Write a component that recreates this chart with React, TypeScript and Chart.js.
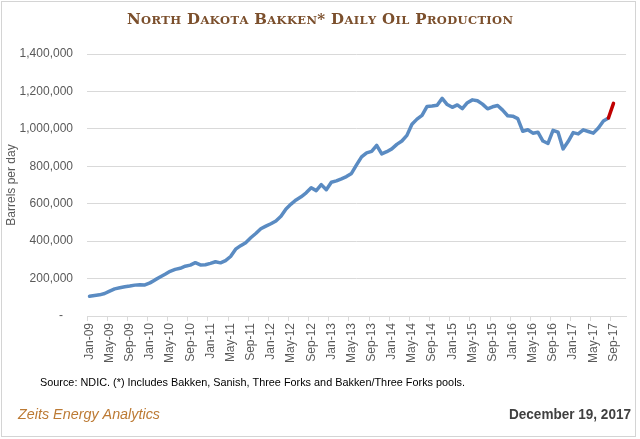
import React, { useEffect, useRef } from "react";
import { Chart, registerables } from "chart.js";

Chart.register(...registerables);

// ---- Data ----
const MONTHS = ["Jan", "Feb", "Mar", "Apr", "May", "Jun", "Jul", "Aug", "Sep", "Oct", "Nov", "Dec"];
const YEARS = ["09", "10", "11", "12", "13", "14", "15", "16", "17"];
// axis categories run Jan-09 .. Nov-17 (data ends Sep-17)
const categories: string[] = YEARS.flatMap((y) => MONTHS.map((m) => `${m}-${y}`)).slice(0, 107);

// North Dakota Bakken daily oil production, barrels per day (Jan-09 .. Sep-17)
const production: number[] = [
  106000, 110000, 113000, 120000, 133000, 145000, 151000, 156000, 160000, 165000, 167000, 166000,
  177000, 193000, 208000, 223000, 239000, 249000, 255000, 266000, 272000, 285000, 273000, 274000,
  281000, 290000, 284000, 296000, 318000, 357000, 376000, 392000, 418000, 441000, 466000, 480000,
  493000, 508000, 533000, 572000, 598000, 620000, 637000, 658000, 685000, 670000, 702000, 675000,
  715000, 722000, 733000, 745000, 762000, 807000, 850000, 872000, 880000, 912000, 866000, 878000,
  893000, 917000, 935000, 965000, 1025000, 1052000, 1072000, 1120000, 1122000, 1126000, 1163000, 1130000,
  1115000, 1128000, 1108000, 1140000, 1155000, 1150000, 1132000, 1107000, 1118000, 1125000, 1100000, 1070000,
  1068000, 1055000, 987000, 995000, 977000, 982000, 935000, 922000, 992000, 982000, 893000, 932000,
  980000, 973000, 995000, 986000, 977000, 1005000, 1042000, 1058000, 1136000,
];
// last month segment highlighted in red
const HIGHLIGHT_FROM = "Aug-17";

const Y_TICKS = [0, 200000, 400000, 600000, 800000, 1000000, 1200000, 1400000];

const TITLE = "North Dakota Bakken* Daily Oil Production";
const Y_TITLE = "Barrels per day";
const SOURCE = "Source: NDIC. (*) Includes Bakken, Sanish, Three Forks and Bakken/Three Forks pools.";
const BRAND = "Zeits Energy Analytics";
const DATE = "December 19, 2017";

const decorPlugin = {
  id: "decor",
  beforeDraw(chart: any) {
    const ctx = chart.ctx;
    ctx.save();
    ctx.fillStyle = "#ffffff";
    ctx.fillRect(0, 0, chart.width, chart.height);
    ctx.restore();
  },
  afterDraw(chart: any) {
    const ctx = chart.ctx;
    ctx.save();
    // frame
    ctx.strokeStyle = "#d4d4d4";
    ctx.lineWidth = 1;
    ctx.strokeRect(1.5, 1.5, 634, 435);

    // small-caps title
    const family = "'DejaVu Serif'";
    const big = 15;
    const small = 11.5;
    const parts: { ch: string; size: number; w: number }[] = [];
    for (const ch of TITLE) {
      const lower = ch !== ch.toUpperCase();
      parts.push({ ch: ch.toUpperCase(), size: lower ? small : big, w: 0 });
    }
    let total = 0;
    for (const p of parts) {
      ctx.font = `bold ${p.size}px ${family}`;
      p.w = ctx.measureText(p.ch).width;
      total += p.w;
    }
    const target = 386;
    const gap = (target - total) / (parts.length - 1);
    let x = 320 - target / 2;
    ctx.fillStyle = "#7B4F2C";
    ctx.textBaseline = "alphabetic";
    ctx.textAlign = "left";
    for (const p of parts) {
      ctx.font = `bold ${p.size}px ${family}`;
      ctx.fillText(p.ch, x, 23.5);
      x += p.w + gap;
    }

    // footer texts
    ctx.textBaseline = "middle";
    ctx.fillStyle = "#000000";
    ctx.font = "11px 'Liberation Sans'";
    ctx.fillText(SOURCE, 40, 383, 425);

    ctx.fillStyle = "#BC7A34";
    ctx.font = "italic 15px 'Liberation Sans'";
    ctx.fillText(BRAND, 18, 415, 142);

    ctx.fillStyle = "#404040";
    ctx.font = "bold 14px 'Liberation Sans'";
    ctx.textAlign = "right";
    ctx.fillText(DATE, 631, 415, 122);
    ctx.restore();
  },
};

export default function App() {
  const ref = useRef<HTMLCanvasElement | null>(null);

  useEffect(() => {
    document.body.style.margin = "0";
    if (!ref.current) return;
    const hiIndex = categories.indexOf(HIGHLIGHT_FROM);
    const chart = new Chart(ref.current, {
      type: "line",
      data: {
        labels: categories,
        datasets: [
          {
            label: "Bakken",
            data: production,
            borderColor: "#5A8BC2",
            borderWidth: 3.5,
            pointRadius: 0,
            tension: 0,
            borderCapStyle: "round",
            borderJoinStyle: "round",
            fill: false,
            segment: {
              borderColor: (c: any) => (c.p0DataIndex >= hiIndex ? "#C00000" : undefined),
            },
          } as any,
        ],
      },
      options: {
        responsive: false,
        animation: false,
        events: [],
        layout: { padding: { left: 4, right: 10, top: 54, bottom: 77 } },
        plugins: {
          legend: { display: false },
          tooltip: { enabled: false },
          title: { display: false },
        },
        scales: {
          x: {
            type: "category",
            offset: true,
            afterFit: (s: any) => {
              s.height = 46;
            },
            grid: {
              offset: true,
              drawOnChartArea: false,
              drawTicks: true,
              tickLength: 5,
              color: (c: any) => (c.index % 4 === 0 ? "#d9d9d9" : "rgba(0,0,0,0)"),
            },
            border: { display: true, color: "#d9d9d9" },
            ticks: {
              autoSkip: false,
              maxRotation: 90,
              minRotation: 90,
              padding: 2,
              color: "#595959",
              font: { family: "'Liberation Sans'", size: 12 },
              callback: (_v: any, i: number) => (i % 4 === 0 ? categories[i] : ""),
            },
          },
          y: {
            min: 0,
            max: 1400000,
            afterFit: (s: any) => {
              s.width = 83;
            },
            afterBuildTicks: (s: any) => {
              s.ticks = Y_TICKS.map((v) => ({ value: v }));
            },
            grid: { color: "#d9d9d9", drawTicks: false },
            border: { display: false },
            title: {
              display: true,
              text: Y_TITLE,
              color: "#595959",
              font: { family: "'Liberation Sans'", size: 12 },
              padding: { top: 0, bottom: 0 },
            },
            ticks: {
              padding: 14,
              color: "#595959",
              font: { family: "'Liberation Sans'", size: 12 },
              callback: (v: any) => (Number(v) === 0 ? "-   " : Number(v).toLocaleString("en-US")),
            },
          },
        },
      },
      plugins: [decorPlugin],
    });
    return () => chart.destroy();
  }, []);

  return (
    <div style={{ position: "absolute", left: 0, top: 0, width: 640, height: 439 }}>
      <canvas ref={ref} width={640} height={439} style={{ display: "block" }} />
    </div>
  );
}
